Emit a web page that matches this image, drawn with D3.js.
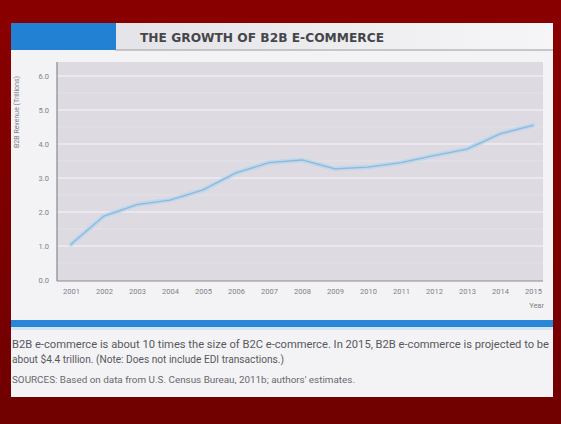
<!DOCTYPE html>
<html>
<head>
<meta charset="utf-8">
<script src="https://cdn.jsdelivr.net/npm/d3@7/dist/d3.min.js"></script>
<style>
  html, body { margin: 0; padding: 0; background: #7a0000; }
  svg { display: block; }
</style>
</head>
<body>
<svg id="chart" width="561" height="424"></svg>
<script>
// B2B e-commerce revenue, trillions of dollars
const years = [2001, 2002, 2003, 2004, 2005, 2006, 2007, 2008, 2009, 2010, 2011, 2012, 2013, 2014, 2015];
const revenue = [1.05, 1.88, 2.22, 2.35, 2.65, 3.15, 3.45, 3.53, 3.27, 3.32, 3.45, 3.66, 3.85, 4.3, 4.55];
const yTicks = [0, 1, 2, 3, 4, 5, 6];

const titleText = "THE GROWTH OF B2B E-COMMERCE";
const yTitle = "B2B Revenue (Trillions)";
const xTitle = "Year";
const captionLines = [
  "B2B e-commerce is about 10 times the size of B2C e-commerce. In 2015, B2B e-commerce is projected to be",
  "about $4.4 trillion. (Note: Does not include EDI transactions.)"
];
const sourceText = "SOURCES: Based on data from U.S. Census Bureau, 2011b; authors' estimates.";

const svg = d3.select("#chart");
const defs = svg.append("defs");
const narrow = "Liberation Sans Narrow, Arial Narrow, Roboto, sans-serif";

// dark red backdrop
const bg = defs.append("linearGradient").attr("id", "bg").attr("x1", 0).attr("y1", 0).attr("x2", 0).attr("y2", 1);
bg.append("stop").attr("offset", "0").attr("stop-color", "#8a0000");
bg.append("stop").attr("offset", "1").attr("stop-color", "#700000");
svg.append("rect").attr("width", 561).attr("height", 424).attr("fill", "url(#bg)");

// page
svg.append("rect").attr("x", 11).attr("y", 23).attr("width", 542).attr("height", 374).attr("fill", "#f3f3f6");

// title band
const tb = defs.append("linearGradient").attr("id", "tb").attr("x1", 0).attr("y1", 0).attr("x2", 1).attr("y2", 0);
tb.append("stop").attr("offset", "0").attr("stop-color", "#e4e4e8");
tb.append("stop").attr("offset", "1").attr("stop-color", "#f6f6f8");
svg.append("rect").attr("x", 115).attr("y", 23).attr("width", 438).attr("height", 27).attr("fill", "url(#tb)");
svg.append("rect").attr("x", 11).attr("y", 23).attr("width", 105).attr("height", 27).attr("fill", "#2281d2");
svg.append("line").attr("x1", 115).attr("x2", 553).attr("y1", 50).attr("y2", 50)
  .attr("stroke", "#9a9aa0").attr("stroke-width", 1);
svg.append("text").attr("x", 140).attr("y", 42)
  .attr("font-family", "DejaVu Sans, sans-serif").attr("font-weight", "bold")
  .attr("font-size", 11.5).attr("fill", "#46464a")
  .attr("textLength", 244).attr("lengthAdjust", "spacingAndGlyphs")
  .text(titleText);

// plot area
const plot = { left: 57, right: 543, top: 62, bottom: 281 };
const x = d3.scaleLinear().domain([2001, 2015]).range([71, 533]);
const y = d3.scaleLinear().domain([0, 6]).range([280, 76]);

svg.append("rect").attr("x", plot.left).attr("y", plot.top)
  .attr("width", plot.right - plot.left).attr("height", plot.bottom - plot.top)
  .attr("fill", "#dddae2");

// gridlines
const half = d3.range(0.5, 6.5, 1);
svg.append("g").selectAll("line").data(half).join("line")
  .attr("x1", plot.left).attr("x2", plot.right)
  .attr("y1", d => y(d)).attr("y2", d => y(d))
  .attr("stroke", "#e4e2e8").attr("stroke-width", 1);
svg.append("g").selectAll("line").data(yTicks.filter(d => d > 0)).join("line")
  .attr("x1", plot.left).attr("x2", plot.right)
  .attr("y1", d => y(d)).attr("y2", d => y(d))
  .attr("stroke", "#eeedf2").attr("stroke-width", 1.3);

// axes
const yAxis = d3.axisLeft(y).tickValues(yTicks).tickFormat(d3.format(".1f")).tickSize(0).tickPadding(8);
const gy = svg.append("g").attr("transform", `translate(${plot.left},0)`).call(yAxis);
gy.select(".domain").remove();
gy.selectAll("text").attr("font-family", narrow).attr("font-size", 7.5).attr("fill", "#808086");

const xAxis = d3.axisBottom(x).tickValues(years).tickFormat(d3.format("d")).tickSize(0).tickPadding(8);
const gx = svg.append("g").attr("transform", `translate(0,${plot.bottom})`).call(xAxis);
gx.select(".domain").remove();
gx.selectAll("text").attr("font-family", narrow).attr("font-size", 7.5).attr("fill", "#808086");

svg.append("line").attr("x1", plot.left).attr("x2", plot.left).attr("y1", plot.top).attr("y2", plot.bottom)
  .attr("stroke", "#8a8a90").attr("stroke-width", 1.2);
svg.append("line").attr("x1", plot.left).attr("x2", plot.right).attr("y1", plot.bottom).attr("y2", plot.bottom)
  .attr("stroke", "#8a8a90").attr("stroke-width", 1.2);

svg.append("text").attr("transform", "translate(19,112) rotate(-90)")
  .attr("text-anchor", "middle").attr("font-family", narrow)
  .attr("font-size", 7).attr("fill", "#808086").text(yTitle);
svg.append("text").attr("x", 544).attr("y", 308).attr("text-anchor", "end")
  .attr("font-family", narrow).attr("font-size", 7.5).attr("fill", "#808086").text(xTitle);

// revenue line: pale halo with a thin darker core
const pts = years.map((yr, i) => [yr, revenue[i]]);
const line = d3.line().x(d => x(d[0])).y(d => y(d[1]));
svg.append("path").datum(pts).attr("d", line)
  .attr("fill", "none").attr("stroke", "#bcd8ee").attr("stroke-width", 4.5)
  .attr("stroke-linejoin", "round").attr("stroke-linecap", "round");
svg.append("path").datum(pts).attr("d", line)
  .attr("fill", "none").attr("stroke", "#93b7d6").attr("stroke-width", 1.3)
  .attr("stroke-linejoin", "round").attr("stroke-linecap", "round");

// blue rule under the figure
svg.append("rect").attr("x", 11).attr("y", 320).attr("width", 542).attr("height", 7).attr("fill", "#2a86d6");
svg.append("rect").attr("x", 11).attr("y", 327).attr("width", 542).attr("height", 3).attr("fill", "#d3e5f3");

// caption
const cap = svg.append("g").attr("font-family", narrow).attr("fill", "#58585c");
cap.append("text").attr("x", 12).attr("y", 348).attr("font-size", 10.5)
  .attr("textLength", 537).attr("lengthAdjust", "spacingAndGlyphs").text(captionLines[0]);
cap.append("text").attr("x", 12).attr("y", 363).attr("font-size", 10.5)
  .attr("textLength", 272).attr("lengthAdjust", "spacingAndGlyphs").text(captionLines[1]);
cap.append("text").attr("x", 12).attr("y", 383).attr("font-size", 8.5).attr("fill", "#68686c")
  .attr("textLength", 343).attr("lengthAdjust", "spacingAndGlyphs").text(sourceText);
</script>
</body>
</html>
